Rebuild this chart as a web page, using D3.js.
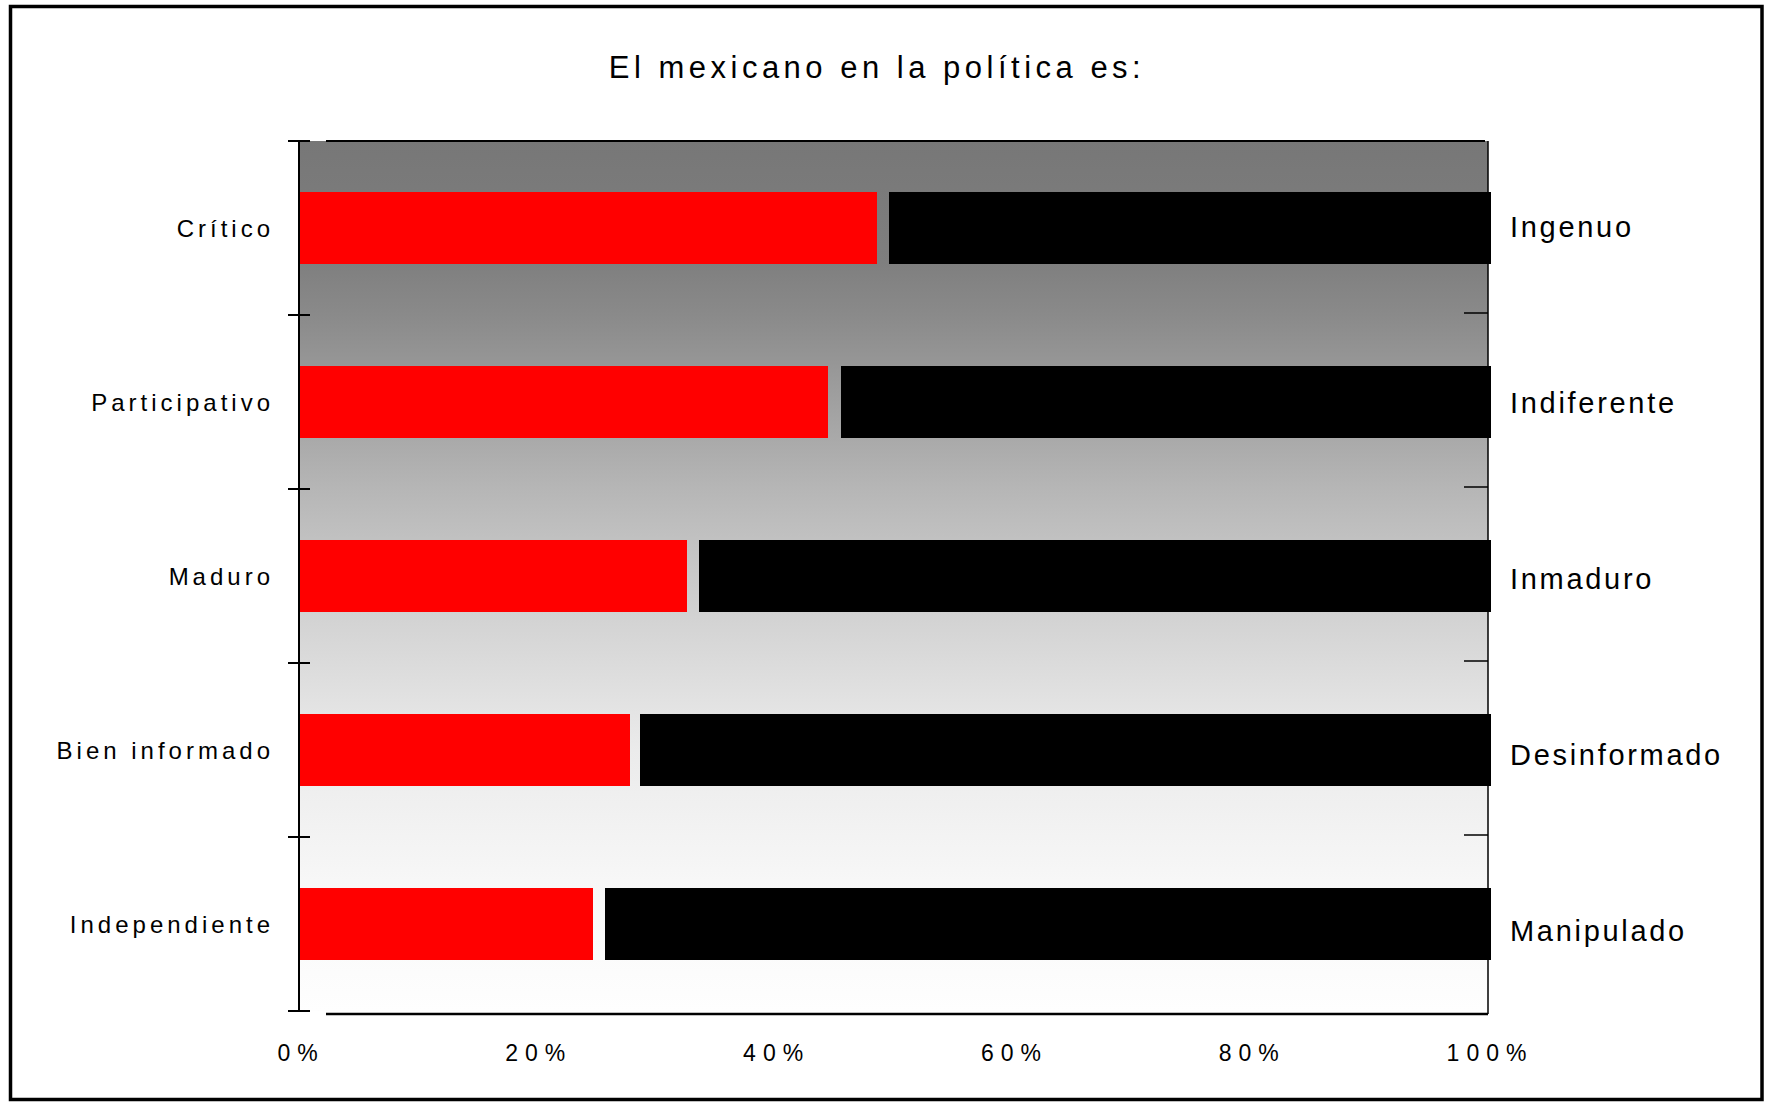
<!DOCTYPE html>
<html>
<head>
<meta charset="utf-8">
<script src="https://cdn.jsdelivr.net/npm/d3@7"></script>
<style>
  html, body { margin: 0; padding: 0; background: #fff; }
  svg { display: block; }
  text { font-family: "Liberation Sans", Arial, sans-serif; fill: #000; }
</style>
</head>
<body>
<svg id="chart" width="1765" height="1102"></svg>
<script>
// ---- data ----
const title = "El mexicano en la política es:";
const leftCategories  = ["Crítico", "Participativo", "Maduro", "Bien informado", "Independiente"];
const rightCategories = ["Ingenuo", "Indiferente", "Inmaduro", "Desinformado", "Manipulado"];
const positiveValues  = [48.6, 44.5, 32.6, 27.8, 24.7];   // red (left trait)
const noAnswerValues  = [1.0, 1.1, 1.0, 0.9, 1.0];        // unfilled gap
const negativeValues  = [50.4, 54.4, 66.4, 71.3, 74.3];   // black (right trait)
const xTickValues     = [0, 20, 40, 60, 80, 100];

// ---- layout / style ----
const W = 1765, H = 1102;
const plot = { left: 299, right: 1488, top: 141, bottom: 1011 };
const gradStops = [
  [0.00, "#777777"], [0.14, "#7f7f7f"], [0.20, "#8a8a8a"], [0.30, "#a0a0a0"],
  [0.40, "#b6b6b6"], [0.55, "#d3d3d3"], [0.70, "#ebebeb"], [0.85, "#f7f7f7"], [1.00, "#fefefe"]
];
const seriesColors = ["#ff0000", "none", "#000000"];

const svg = d3.select("#chart");

// outer frame
svg.append("rect")
  .attr("x", 10.5).attr("y", 6.5).attr("width", 1751.5).attr("height", 1093)
  .attr("fill", "#fff").attr("stroke", "#000").attr("stroke-width", 3.5);

// gradient
const defs = svg.append("defs");
const lg = defs.append("linearGradient").attr("id", "bg")
  .attr("x1", 0).attr("y1", 0).attr("x2", 0).attr("y2", 1);
gradStops.forEach(s => lg.append("stop").attr("offset", s[0]).attr("stop-color", s[1]));

// scales
const x = d3.scaleLinear().domain([0, 100]).range([plot.left, plot.right]);
const yCat = d3.scaleBand().domain(leftCategories).range([plot.top, plot.bottom]).padding(0);
const yBar = d3.scaleBand().domain(leftCategories).range([plot.top, plot.bottom])
  .paddingInner(0.585).paddingOuter(0.2925);
const yRight = d3.scaleBand().domain(rightCategories).range([138, 1019]).padding(0);

// plot background
svg.append("rect")
  .attr("x", plot.left).attr("y", plot.top)
  .attr("width", plot.right - plot.left).attr("height", plot.bottom - plot.top)
  .attr("fill", "url(#bg)");

// stacked data
const rows = leftCategories.map((c, i) => ({
  cat: c, pos: positiveValues[i], na: noAnswerValues[i], neg: negativeValues[i]
}));
const stack = d3.stack().keys(["pos", "na", "neg"]);
const series = stack(rows);

svg.append("g").selectAll("g").data(series).join("g")
  .attr("fill", (d, i) => seriesColors[i])
  .selectAll("rect").data(d => d).join("rect")
  .attr("x", d => x(d[0]))
  .attr("width", (d) => x(d[1]) - x(d[0]) + (d[1] >= 100 ? 3 : 0))
  .attr("y", d => yBar(d.data.cat))
  .attr("height", yBar.bandwidth())
  .attr("shape-rendering", "crispEdges");

// axes lines
const axisG = svg.append("g").attr("stroke", "#000").attr("fill", "none");
// left axis line
axisG.append("line").attr("x1", plot.left).attr("x2", plot.left)
  .attr("y1", plot.top).attr("y2", plot.bottom).attr("stroke-width", 2);
// left ticks at band boundaries (crossing)
const boundaries = leftCategories.map(c => yCat(c)).concat([plot.bottom]);
axisG.selectAll("line.lt").data(boundaries).join("line").attr("class", "lt")
  .attr("x1", plot.left - 11).attr("x2", plot.left + 11)
  .attr("y1", d => d).attr("y2", d => d).attr("stroke-width", 2);
// right axis line
axisG.append("line").attr("x1", plot.right).attr("x2", plot.right)
  .attr("y1", plot.top).attr("y2", plot.bottom + 3).attr("stroke-width", 1.5);
// right ticks (inward), interior boundaries
axisG.selectAll("line.rt").data(boundaries.slice(1, -1)).join("line").attr("class", "rt")
  .attr("x1", plot.right - 24).attr("x2", plot.right)
  .attr("y1", d => d - 2).attr("y2", d => d - 2).attr("stroke-width", 1.5);
// top border line
axisG.append("line").attr("x1", plot.left + 27).attr("x2", plot.right - 3)
  .attr("y1", plot.top).attr("y2", plot.top).attr("stroke-width", 2);
// bottom x axis line
axisG.append("line").attr("x1", plot.left + 27).attr("x2", plot.right)
  .attr("y1", plot.bottom + 3).attr("y2", plot.bottom + 3).attr("stroke-width", 2.5);

// x axis tick labels
const xAxis = d3.axisBottom(x).tickValues(xTickValues).tickFormat(d => d + "%").tickSize(0).tickPadding(0);
const xg = svg.append("g").attr("transform", `translate(0, 1061)`).call(xAxis);
xg.select(".domain").remove();
xg.selectAll("text")
  .attr("dy", 0).attr("dx", 1.5)
  .style("font-family", "'Liberation Sans', Arial, sans-serif")
  .style("font-size", "23px").style("letter-spacing", "7px").attr("fill", "#000");

// left labels
svg.append("g").selectAll("text").data(leftCategories).join("text")
  .attr("x", 274)
  .attr("y", d => yCat(d) + yCat.bandwidth() / 2 + 9)
  .attr("text-anchor", "end")
  .style("font-size", "24px").style("letter-spacing", "4px")
  .text(d => d);

// right labels
svg.append("g").selectAll("text").data(rightCategories).join("text")
  .attr("x", 1510)
  .attr("y", d => yRight(d) + yRight.bandwidth() / 2 + 10.5)
  .attr("text-anchor", "start")
  .style("font-size", "29px").style("letter-spacing", "2.7px")
  .text(d => d);

// title
svg.append("text")
  .attr("x", 877).attr("y", 78)
  .attr("text-anchor", "middle")
  .style("font-size", "31px").style("letter-spacing", "4.5px")
  .text(title);
</script>
</body>
</html>
